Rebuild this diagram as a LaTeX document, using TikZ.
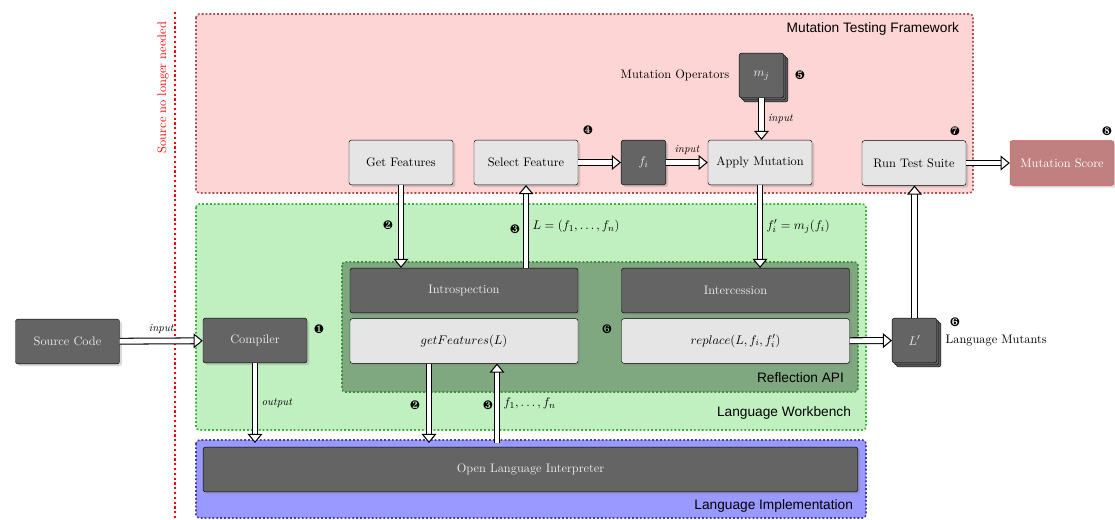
\documentclass[tikz,border=0pt]{standalone}
\usepackage{fontspec}
\setsansfont{Liberation Sans}
\usepackage{amsmath}
\usepackage{pifont}
\usetikzlibrary{arrows.meta, shadows, positioning}

\definecolor{nodedark}{RGB}{100,100,100}
\definecolor{nodelight}{RGB}{229,229,229}
\definecolor{mtffill}{RGB}{253,213,213}
\definecolor{mtfdraw}{RGB}{168,80,80}
\definecolor{lwbfill}{RGB}{192,240,192}
\definecolor{lwbdraw}{RGB}{60,180,60}
\definecolor{apifill}{RGB}{128,168,128}
\definecolor{apidraw}{RGB}{60,140,60}
\definecolor{implfill}{RGB}{153,153,255}
\definecolor{impldraw}{RGB}{64,64,160}
\definecolor{scorefill}{RGB}{192,128,128}
\definecolor{scoredraw}{RGB}{210,80,80}

\begin{document}
\begin{tikzpicture}[
        x=0.875pt, y=-0.875pt,
        font=\fontsize{10.8pt}{13pt}\selectfont,
        box/.style={draw=black, rounded corners=2pt, minimum width=91pt, minimum height=39pt,
            drop shadow={opacity=0.3, shadow xshift=2pt, shadow yshift=-2pt}},
        dark/.style={box, fill=nodedark, text=white!92!black},
        light/.style={box, fill=nodelight},
        widebox/.style={minimum width=199.5pt},
        stack/.style={draw=black, rounded corners=2pt, fill=nodedark, text=white!92!black,
            minimum width=39pt, minimum height=39pt,
            double copy shadow={shadow xshift=1.8pt, shadow yshift=-1.8pt}},
        region/.style={rounded corners=3pt, line width=1.4pt, dash pattern=on 1.6pt off 1.8pt},
        regionlabel/.style={font=\sffamily\large, anchor=east},
        fat/.style={double distance=4.2pt, line width=0.9pt,
            -{Triangle[open, fill=white, line width=0.9pt, length=8pt, width=13pt]}},
        num/.style={inner sep=1pt},
        lbl/.style={font=\fontsize{9.6pt}{11pt}\selectfont\itshape}
    ]
    \useasboundingbox (0,0) rectangle (1115,520);

    % layers
    \draw[region, fill=mtffill, draw=mtfdraw] (196,14) rectangle (973,193);
    \draw[region, fill=lwbfill, draw=lwbdraw] (196,204) rectangle (866,430);
    \draw[region, fill=apifill, draw=apidraw] (342,262) rectangle (858,392);
    \draw[region, fill=implfill, draw=impldraw] (196,440) rectangle (866,518);

    \node[regionlabel] at (963,29) {Mutation Testing Framework};
    \node[regionlabel] at (855,413) {Language Workbench};
    \node[regionlabel] at (848,378) {Reflection API};
    \node[regionlabel] at (857,506) {Language Implementation};

    % source boundary
    \draw[red, line width=2pt, dash pattern=on 2pt off 2.2pt] (175,12) -- (175,520);
    \node[rotate=90, anchor=east, text=red] at (163,18) {Source no longer needed};

    % nodes
    \node[dark] (src) at (67.5,341.5) {Source Code};
    \node[dark] (comp) at (255,340.5) {Compiler};
    \node[dark, widebox] (intro) at (464,290.5) {Introspection};
    \node[light, widebox] (getfl) at (464,341) {$getFeatures(L)$};
    \node[dark, widebox] (inter) at (735.5,290.5) {Intercession};
    \node[light, widebox] (repl) at (735.5,341) {$replace(L, f_i, f'_i)$};
    \node[dark, minimum width=573pt] (interp) at (530.5,469.5) {Open Language Interpreter};

    \node[light] (getf) at (401,162.5) {Get Features};
    \node[light] (self) at (526,162.5) {Select Feature};
    \node[dark, minimum width=39pt] (fi) at (643.5,162.5) {$f_i$};
    \node[light] (apply) at (760,162.5) {Apply Mutation};
    \node[light] (run) at (914,163) {Run Test Suite};
    \node[box, fill=scorefill, draw=scoredraw, text=white] (score) at (1062,163) {Mutation Score};

    \node[stack] (mj) at (761.5,75.5) {$m_j$};
    \node[left=5pt of mj] (mjtext) {Mutation Operators};
    \node[stack] (lm) at (914.5,340.5) {$L'$};
    \node[right=4pt of lm] (lmtext) {Language Mutants};

    % step numbers
    \node[num] (n1) at (319,329) {\ding{182}};
    \node[num] (n2a) at (388,225) {\ding{183}};
    \node[num] (n3a) at (515,229) {\ding{184}};
    \node[num] (n4) at (588,130) {\ding{185}};
    \node[num] (n5) at (800,75) {\ding{186}};
    \node[num] (n6a) at (607,329) {\ding{187}};
    \node[num] (n6b) at (955,322) {\ding{187}};
    \node[num] (n7) at (955,131) {\ding{188}};
    \node[num] (n8) at (1107,131) {\ding{189}};
    \node[num] (n2b) at (415,405) {\ding{183}};
    \node[num] (n3b) at (488,405) {\ding{184}};

    % connectors
    \coordinate (impltop) at (0,443);
    \coordinate (down2) at (429,443);
    \coordinate (up3) at (497,443);

    \draw[fat] (src) -- (comp) node[midway, above=3pt, lbl] {input};
    \draw[fat] (comp.south) -- (comp.south |- impltop) node[midway, right=2pt, lbl] {output};
    \draw[fat] (getf.south) -- (getf.south |- intro.north);
    \draw[fat] (self.south |- intro.north) -- (self.south)
        node[midway, right=2pt] {$L = (f_1, \ldots, f_n)$};
    \draw[fat] (self) -- (fi);
    \draw[fat] (fi) -- (apply) node[midway, above=3pt, lbl] {input};
    \draw[fat] (mj.south) -- (mj.south |- apply.north) node[midway, right=2pt, lbl] {input};
    \draw[fat] (apply.south) -- (apply.south |- inter.north)
        node[midway, right=2pt] {$f'_i = m_j(f_i)$};
    \draw[fat] (getfl.south -| down2) -- (down2);
    \draw[fat] (up3) -- (up3 |- getfl.south)
        node[midway, right=2pt] {$f_1, \ldots, f_n$};
    \draw[fat] (repl) -- (lm);
    \draw[fat] (lm.north) -- (lm.north |- run.south);
    \draw[fat] (run) -- (score);
\end{tikzpicture}
\end{document}
